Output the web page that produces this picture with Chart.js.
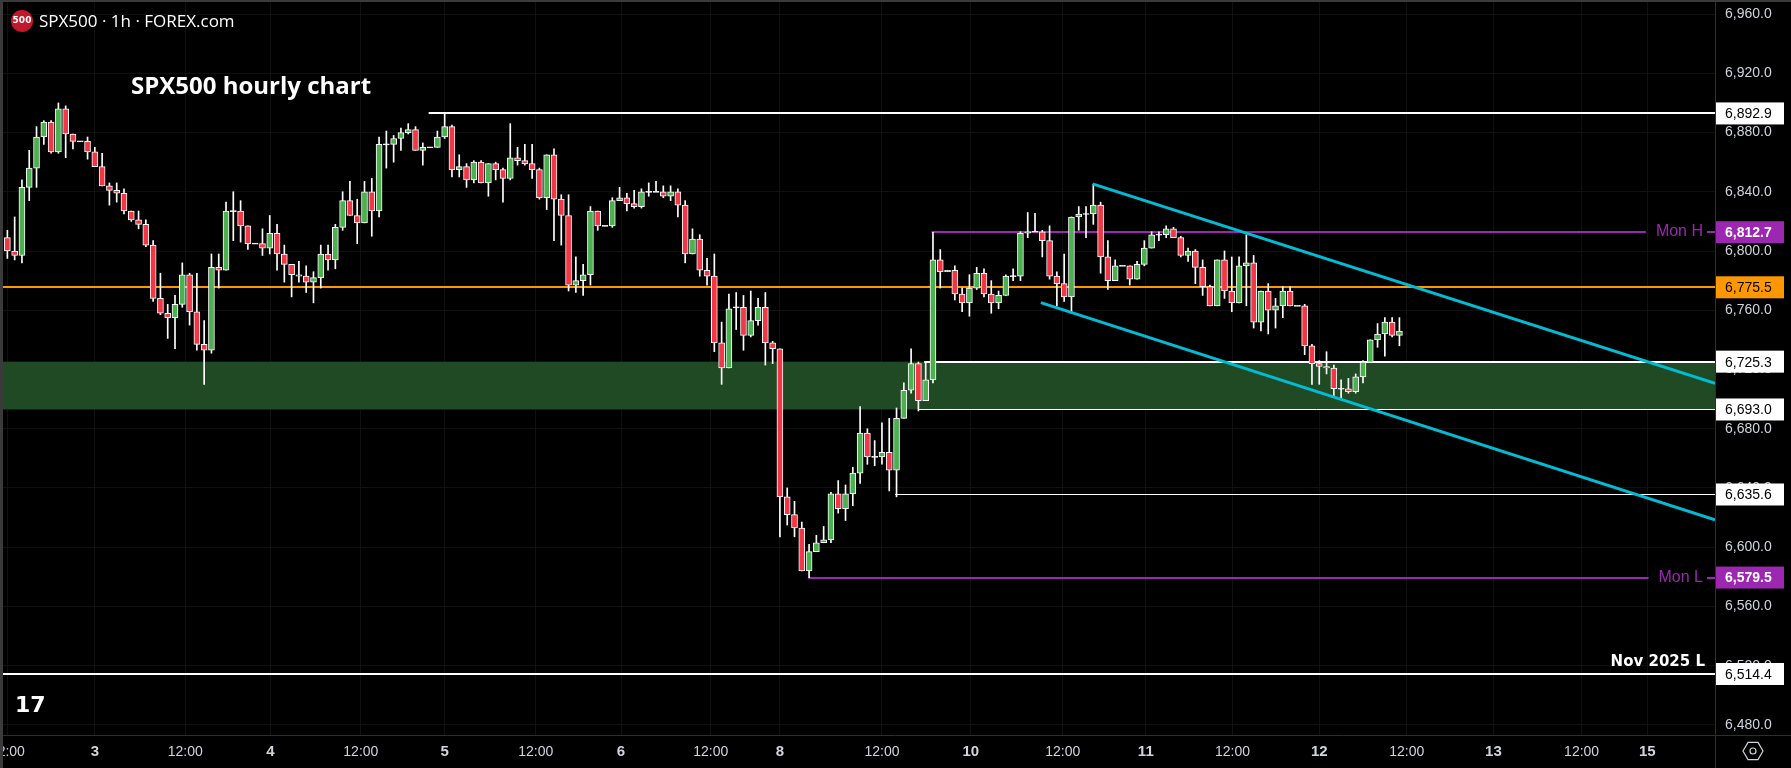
<!DOCTYPE html>
<html>
<head>
<meta charset="utf-8">
<script src="https://cdn.jsdelivr.net/npm/chart.js@4.4.1/dist/chart.umd.min.js"></script>
<style>
  html, body { margin: 0; padding: 0; background: #000; }
</style>
</head>
<body>
<canvas id="chart" width="1791" height="768"></canvas>
<script>
// velas horarias SPX500 (una por hora)
const opens = [6809,6800,6797,6843,6856,6877,6887,6867,6896,6879,
  6874,6874,6867,6857,6844,6841,6839,6827,6821,6818,
  6804,6768,6758,6755,6764,6784,6759,6737,6733,6789,
  6787,6827,6827,6817,6805,6805,6802,6812,6798,6791,
  6784,6783,6779,6782,6798,6794,6816,6834,6824,6819,
  6840,6827,6872,6872,6876,6880,6882,6868,6870,6870,
  6877,6884,6855,6857,6848,6860,6846,6859,6855,6849,
  6863,6861,6859,6855,6836,6865,6835,6824,6777,6780,
  6784,6827,6817,6817,6834,6836,6832,6830,6840,6840,
  6840,6837,6840,6831,6798,6808,6787,6783,6738,6721,
  6762,6762,6743,6753,6762,6738,6734,6634,6622,6613,
  6584,6597,6603,6605,6636,6626,6636,6650,6677,6661,
  6661,6664,6652,6687,6706,6724,6699,6713,6794,6786,
  6787,6771,6765,6775,6785,6771,6765,6770,6783,6783,
  6812,6813,6813,6807,6783,6778,6769,6823,6825,6825,
  6831,6796,6780,6790,6790,6781,6791,6802,6811,6811,
  6815,6809,6797,6800,6789,6776,6763,6794,6773,6765,
  6790,6792,6752,6773,6760,6763,6773,6763,6763,6736,
  6724,6722,6721,6707,6707,6705,6715,6725,6740,6744,
  6752,6743];
const highs = [6814,6823,6848,6868,6884,6888,6888,6900,6898,6879,
  6874,6877,6870,6866,6846,6846,6842,6827,6827,6821,
  6807,6785,6764,6770,6792,6785,6785,6753,6798,6798,
  6833,6840,6834,6817,6805,6815,6824,6818,6804,6791,
  6793,6790,6786,6804,6804,6818,6840,6847,6835,6847,
  6849,6877,6881,6878,6883,6886,6884,6873,6870,6881,
  6893,6885,6865,6859,6861,6861,6859,6860,6856,6886,
  6870,6872,6872,6856,6865,6869,6838,6838,6796,6791,
  6830,6827,6817,6836,6843,6839,6841,6842,6846,6847,
  6844,6844,6842,6834,6815,6811,6795,6798,6752,6771,
  6772,6770,6773,6768,6772,6739,6734,6640,6631,6617,
  6602,6608,6614,6637,6645,6642,6654,6695,6680,6672,
  6684,6687,6694,6711,6734,6725,6725,6812.7,6801,6787,
  6790,6775,6784,6789,6788,6780,6773,6784,6788,6813,
  6826,6825.5,6814,6817,6786,6798,6823,6830,6830,6845,
  6833,6807,6794,6790,6790,6793,6807,6813,6813,6817,
  6816,6810,6802,6801,6794,6777,6794,6800,6796,6796,
  6811,6797,6773,6778,6768,6776,6776,6763,6764,6737,
  6726,6732,6723,6713,6714,6717,6726,6740,6751,6755,
  6755,6755];
const lows = [6795,6794,6792,6834,6843,6872,6866,6866,6863,6869,
  6874,6862,6857,6844,6831,6833,6825,6820,6815,6803,
  6766,6757,6741,6734,6762,6750,6733,6710,6731,6775,
  6787,6807,6806,6801,6805,6797,6798,6787,6779,6769,
  6779,6772,6765,6775,6787,6788,6814,6824,6805,6819,
  6810,6823,6856,6860,6868,6879,6868,6858,6870,6870,
  6876,6850,6850,6843,6846,6846,6837,6848,6833,6848,
  6858,6858,6849,6835,6828,6807,6804,6773,6772,6770,
  6777,6814,6817,6816,6834,6827,6829,6829,6837,6840,
  6836,6834,6823,6792,6798,6783,6777,6732,6710,6721,
  6747,6733,6742,6750,6723,6724,6607,6615,6607,6584,
  6579.5,6597,6603,6603,6623,6618,6628,6643,6656,6655,
  6656,6638,6634,6687,6704,6692,6699,6711,6775,6786,
  6767,6759,6756,6774,6769,6758,6761,6770,6780,6780,
  6809,6813,6796,6781,6763,6766,6758,6814,6809,6818,
  6785,6774,6780,6790,6777,6781,6790,6802,6807,6809,
  6809,6796,6793,6778,6770,6763,6763,6768,6759,6765,
  6763,6748,6746,6744,6748,6755,6763,6763,6730,6710,
  6710,6717,6701,6701,6704,6704,6711,6725,6735,6729,
  6742,6736];
const closes = [6800,6797,6843,6856,6877,6887,6867,6896,6879,6874,
  6874,6867,6857,6844,6841,6839,6827,6821,6818,6804,
  6768,6758,6755,6764,6784,6759,6737,6733,6789,6787,
  6827,6827,6817,6805,6805,6802,6812,6798,6791,6784,
  6783,6779,6782,6798,6794,6816,6834,6824,6819,6840,
  6827,6872,6872,6876,6880,6882,6868,6870,6870,6877,
  6884,6855,6857,6848,6860,6846,6859,6855,6849,6863,
  6861,6859,6855,6836,6865,6835,6824,6777,6780,6784,
  6827,6817,6817,6834,6836,6832,6830,6840,6840,6840,
  6837,6840,6831,6798,6808,6787,6783,6738,6721,6761,
  6762,6743,6753,6762,6738,6734,6634,6622,6613,6584,
  6597,6603,6605,6636,6626,6636,6650,6677,6661,6661,
  6664,6652,6687,6706,6724,6699,6713,6794,6786,6787,
  6771,6765,6775,6785,6771,6765,6770,6783,6783,6812,
  6813,6813,6807,6783,6778,6769,6823,6825,6825,6831,
  6796,6780,6790,6790,6781,6791,6802,6811,6811,6815,
  6809,6797,6800,6789,6776,6763,6794,6773,6765,6790,
  6792,6752,6773,6760,6763,6773,6763,6763,6736,6724,
  6722,6721,6707,6707,6705,6715,6725,6740,6744,6752,
  6743,6746];

// eje de tiempo: posicion (indice de vela) y etiqueta
const xTickPos = [0, 12, 24.4, 36.1, 48.5, 60, 72.5, 84.2, 96.5, 106, 120, 132.2, 144.8, 156.2, 168.1, 180, 192, 203.9, 216, 225];
const xTickLabels = ['12:00','3','12:00','4','12:00','5','12:00','6','12:00','8','12:00','10','12:00','11','12:00','12','12:00','13','12:00','15'];
const yTicks = [6480,6520,6560,6600,6640,6680,6720,6760,6800,6840,6880,6920,6960];

// niveles horizontales: precio, vela donde empiezan
const levelPrices = [6892.9, 6812.7, 6775.5, 6725.3, 6693.0, 6635.6, 6579.5, 6514.4];
const levelStarts = [57.8, 126.8, -1, 125.8, 125, 121.8, 109.9, -1];
const levelColors = ['#ffffff','#9c27b0','#ff9800','#ffffff','#ffffff','#ffffff','#9c27b0','#ffffff'];
const levelWidths = [2, 2, 2, 2, 1, 1, 2, 2];
const levelTags = ['', 'Mon H', '', '', '', '', 'Mon L', 'Nov 2025 L'];
const zoneLow = 6693.0, zoneHigh = 6725.3;

// canal bajista: [vela, precio] de cada extremo
const channelUpper = [[148.9, 6845.3], [234.3, 6710.7]];
const channelLower = [[141.8, 6765.2], [234.3, 6618.5]];

const GREEN = '#4caf50', RED = '#f23645';
const idx = opens.map((_, i) => i);
const wicks = idx.map(i => ({ x: i, y: [lows[i], highs[i]] }));
const bodies = idx.map(i => {
  let a = Math.min(opens[i], closes[i]), b = Math.max(opens[i], closes[i]);
  if (b - a < 0.8) { a -= 0.35; b += 0.35; }
  return { x: i, y: [a, b] };
});
const bodyColors = idx.map(i => closes[i] > opens[i] ? GREEN : (closes[i] < opens[i] ? RED : '#ffffff'));

function fmt(v) {
  return v.toLocaleString('en-US', { minimumFractionDigits: 1, maximumFractionDigits: 1 });
}

const overlay = {
  id: 'overlay',
  beforeDatasetsDraw(chart) {
    const { ctx, chartArea: a, scales: { x, y } } = chart;
    ctx.save();
    // zona verde
    ctx.fillStyle = '#1f4a23';
    ctx.fillRect(a.left, y.getPixelForValue(zoneHigh), a.right - a.left,
      y.getPixelForValue(zoneLow) - y.getPixelForValue(zoneHigh));
    // niveles
    levelPrices.forEach((p, k) => {
      const py = Math.round(y.getPixelForValue(p)) + (levelWidths[k] === 1 ? 0.5 : 0);
      const sx = levelStarts[k] < 0 ? a.left : x.getPixelForValue(levelStarts[k]);
      let ex = a.right;
      ctx.strokeStyle = levelColors[k];
      ctx.lineWidth = levelWidths[k];
      if (levelTags[k] && levelColors[k] === '#9c27b0') {
        ctx.font = '16px "Liberation Sans", Arial';
        const w = ctx.measureText(levelTags[k]).width;
        ex = a.right - w - 22;
        ctx.fillStyle = levelColors[k];
        ctx.textAlign = 'right';
        ctx.textBaseline = 'middle';
        ctx.fillText(levelTags[k], a.right - 12, py);
        ctx.beginPath(); ctx.moveTo(a.right - 8, py); ctx.lineTo(a.right, py); ctx.stroke();
      }
      ctx.beginPath();
      ctx.moveTo(sx, py);
      ctx.lineTo(ex, py);
      ctx.stroke();
      if (levelTags[k] && levelColors[k] !== '#9c27b0') {
        ctx.fillStyle = '#ffffff';
        ctx.font = 'bold 15px "DejaVu Sans", Arial';
        ctx.textAlign = 'right';
        ctx.textBaseline = 'bottom';
        ctx.fillText(levelTags[k], a.right - 10, py - 4);
      }
    });
    ctx.restore();
  },
  afterDatasetsDraw(chart) {
    const { ctx, chartArea: a, scales: { x, y } } = chart;
    ctx.save();
    ctx.beginPath();
    ctx.rect(a.left, a.top, a.right - a.left, a.bottom - a.top);
    ctx.clip();
    ctx.strokeStyle = '#00bcd4';
    ctx.lineWidth = 3;
    [channelUpper, channelLower].forEach(l => {
      ctx.beginPath();
      ctx.moveTo(x.getPixelForValue(l[0][0]), y.getPixelForValue(l[0][1]));
      ctx.lineTo(x.getPixelForValue(l[1][0]), y.getPixelForValue(l[1][1]));
      ctx.stroke();
    });
    ctx.restore();
  },
  afterDraw(chart) {
    const { ctx, chartArea: a, scales: { x, y } } = chart;
    ctx.save();
    // etiquetas de los ejes
    ctx.fillStyle = '#d1d4dc';
    ctx.textBaseline = 'middle';
    ctx.textAlign = 'left';
    ctx.font = '14px "Liberation Sans", Arial';
    yTicks.forEach(v => ctx.fillText(fmt(v), a.right + 10, y.getPixelForValue(v)));
    ctx.textAlign = 'center';
    xTickPos.forEach((v, i) => {
      const bold = xTickLabels[i].indexOf(':') < 0;
      ctx.font = (bold ? 'bold 15px ' : '14px ') + '"Liberation Sans", Arial';
      ctx.fillText(xTickLabels[i], x.getPixelForValue(v), a.bottom + 17);
    });
    // separadores de ejes y marco
    ctx.strokeStyle = '#2a2e39';
    ctx.lineWidth = 1;
    ctx.beginPath();
    ctx.moveTo(a.right + 0.5, 0); ctx.lineTo(a.right + 0.5, chart.height);
    ctx.moveTo(0, a.bottom + 0.5); ctx.lineTo(chart.width, a.bottom + 0.5);
    ctx.stroke();
    ctx.fillStyle = '#3a3a3a';
    ctx.fillRect(0, 0, 3, chart.height);
    ctx.fillRect(0, 0, chart.width, 2);
    // etiquetas de precio en el eje
    levelPrices.forEach((p, k) => {
      const py = y.getPixelForValue(p);
      ctx.fillStyle = levelColors[k];
      ctx.fillRect(a.right + 1, py - 11, 68, 22);
      ctx.fillStyle = levelColors[k] === '#9c27b0' ? '#ffffff' : '#000000';
      ctx.font = (levelColors[k] === '#9c27b0' ? 'bold ' : '') + '14px "Liberation Sans", Arial';
      ctx.textAlign = 'left';
      ctx.textBaseline = 'middle';
      ctx.fillText(fmt(p), a.right + 10, py + 1);
    });
    // cabecera
    ctx.fillStyle = '#c2182b';
    ctx.beginPath(); ctx.arc(22, 21, 11, 0, Math.PI * 2); ctx.fill();
    ctx.fillStyle = '#fff';
    ctx.font = 'bold 9px "DejaVu Sans", Arial';
    ctx.textAlign = 'center'; ctx.textBaseline = 'middle';
    ctx.fillText('500', 22, 21);
    ctx.font = '17px "Open Sans", Arial';
    ctx.textAlign = 'left';
    ctx.fillText('SPX500 · 1h · FOREX.com', 39, 22);
    ctx.font = 'bold 24px "Open Sans", Arial';
    ctx.fillText('SPX500 hourly chart', 131, 87);
    // logo e icono
    ctx.font = 'bold 22px "DejaVu Sans", Arial';
    ctx.fillText('17', 15, 706);
    ctx.strokeStyle = '#d1d4dc';
    ctx.lineWidth = 1.2;
    ctx.beginPath();
    for (let k = 0; k < 6; k++) {
      const ang = Math.PI / 3 * k;
      const px = 1753 + 10 * Math.cos(ang), py2 = 751 + 10 * Math.sin(ang);
      k ? ctx.lineTo(px, py2) : ctx.moveTo(px, py2);
    }
    ctx.closePath(); ctx.stroke();
    ctx.beginPath(); ctx.arc(1753, 751, 3, 0, Math.PI * 2); ctx.stroke();
    ctx.restore();
  }
};

const ctx = document.getElementById('chart').getContext('2d');
new Chart(ctx, {
  type: 'bar',
  data: {
    datasets: [
      { data: bodies, backgroundColor: bodyColors, borderColor: '#ffffff', borderWidth: 1,
        borderSkipped: false, barThickness: 6, grouped: false, order: 0 },
      { data: wicks, backgroundColor: '#ffffff', borderWidth: 0,
        barThickness: 1, grouped: false, order: 1 }
    ]
  },
  options: {
    responsive: false,
    animation: false,
    devicePixelRatio: 1,
    layout: { padding: { left: 3, top: 0, right: 0, bottom: 0 } },
    plugins: { legend: { display: false }, tooltip: { enabled: false } },
    scales: {
      x: {
        type: 'linear', min: -0.6, max: 234.3, offset: false,
        afterBuildTicks: s => { s.ticks = xTickPos.map(v => ({ value: v })); },
        afterFit: s => { s.height = 33; },
        ticks: { display: false },
        grid: { color: '#101010', drawTicks: false, offset: false },
        border: { display: false }
      },
      y: {
        position: 'right', min: 6473.2, max: 6969.5,
        afterBuildTicks: s => { s.ticks = yTicks.map(v => ({ value: v })); },
        afterFit: s => { s.width = 76; },
        ticks: { display: false },
        grid: { color: '#101010', drawTicks: false },
        border: { display: false }
      }
    }
  },
  plugins: [overlay]
});
</script>
</body>
</html>
